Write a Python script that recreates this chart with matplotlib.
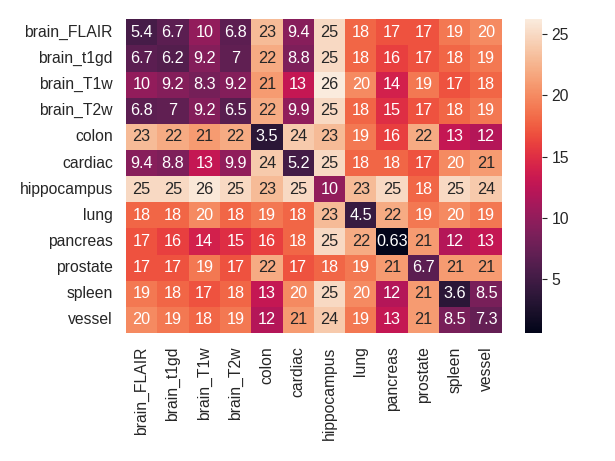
import numpy as np
import pandas as pd
import seaborn as sns
import matplotlib
matplotlib.use("Agg")
import matplotlib.pyplot as plt

labels = ['brain_FLAIR', 'brain_t1gd', 'brain_T1w', 'brain_T2w', 'colon', 'cardiac',
          'hippocampus', 'lung', 'pancreas', 'prostate', 'spleen', 'vessel']

# pairwise distances, read from the annotated cells
values = [
    [5.4, 6.7, 10, 6.8, 23, 9.4, 25, 18, 17, 17, 19, 20],
    [6.7, 6.2, 9.2, 7, 22, 8.8, 25, 18, 16, 17, 18, 19],
    [10, 9.2, 8.3, 9.2, 21, 13, 26.2, 20, 14, 19, 17, 18],
    [6.8, 7, 9.2, 6.5, 22, 9.9, 25, 18, 15, 17, 18, 19],
    [23, 22, 21, 22, 3.5, 24, 23, 19, 16, 22, 13, 12],
    [9.4, 8.8, 13, 9.9, 24, 5.2, 25, 18, 18, 17, 20, 21],
    [25, 25, 26, 25, 23, 25, 10, 23, 25, 18, 25, 24],
    [18, 18, 20, 18, 19, 18, 23, 4.5, 22, 19, 20, 19],
    [17, 16, 14, 15, 16, 18, 25, 22, 0.63, 21, 12, 13],
    [17, 17, 19, 17, 22, 17, 18, 19, 21, 6.7, 21, 21],
    [19, 18, 17, 18, 13, 20, 25, 20, 12, 21, 3.6, 8.5],
    [20, 19, 18, 19, 12, 21, 24, 19, 13, 21, 8.5, 7.3],
]

df = pd.DataFrame(values, index=labels, columns=labels)

sns.set_theme(style="white")
plt.rcParams['font.family'] = ['Liberation Sans', 'DejaVu Sans']
plt.rcParams['xtick.labelsize'] = 11.3
plt.rcParams['ytick.labelsize'] = 11.3

fig = plt.figure(figsize=(6.15, 4.61), dpi=100)
ax = fig.add_axes([0.2049, 0.2777, 0.6109, 0.6805])
cax = fig.add_axes([0.8537, 0.2777, 0.0271, 0.6805])
sns.heatmap(df, annot=True, fmt=".2g", annot_kws={'size': 11.7}, ax=ax, cbar_ax=cax)
cax.tick_params(right=True, length=3.5, width=0.8, color='#262626')
plt.savefig("out.png")
